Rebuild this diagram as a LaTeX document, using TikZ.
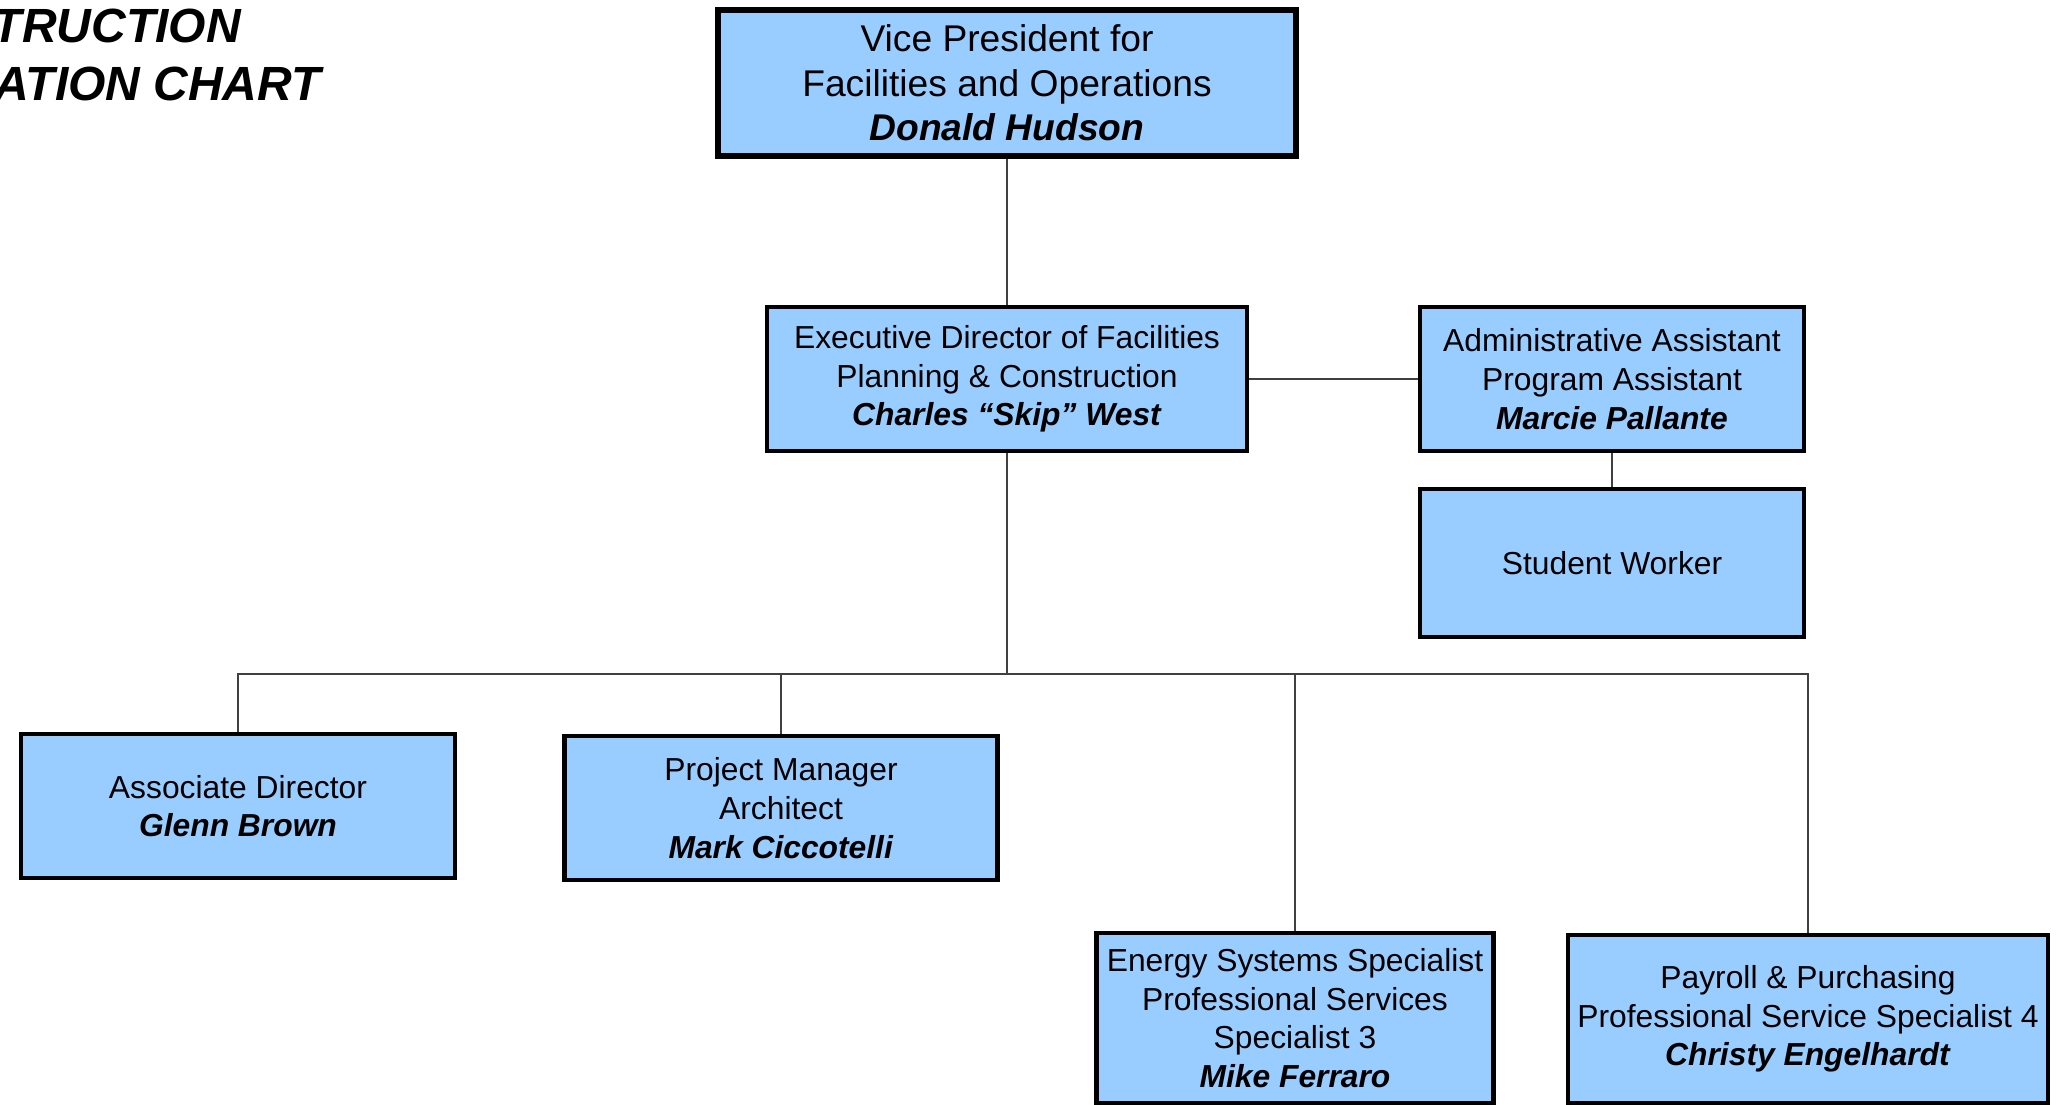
\documentclass[tikz,border=0pt]{standalone}
\usepackage{fontspec}
\setmainfont{Liberation Sans}
\definecolor{boxblue}{HTML}{99CCFF}
\definecolor{linegray}{HTML}{404040}
\tikzset{
  box/.style={draw=black, fill=boxblue, line width=4.5pt, inner sep=0pt, align=center,
    font=\fontsize{31.8}{38.7}\selectfont},
  topbox/.style={box, line width=6pt, font=\fontsize{37.2}{44.6}\selectfont},
  conn/.style={draw=linegray, line width=1.6pt},
  titletext/.style={inner sep=0pt, font=\fontsize{48}{57.6}\selectfont\bfseries\itshape}
}
\newcommand{\pname}[1]{\textbf{\textit{#1}}}
\begin{document}
\begin{tikzpicture}[x=1pt,y=-1pt]
\useasboundingbox (0,0) rectangle (2056,1105);

\node[titletext, anchor=base east] (t1) at (241,43) {TRUCTION};
\node[titletext, anchor=base east] (t2) at (321,101) {ATION CHART};

\node[topbox, minimum width=578pt, minimum height=146pt] (vp) at (1007,83)
  {Vice President for\\Facilities and Operations\\\pname{Donald Hudson}};
\node[box, minimum width=480pt, minimum height=144pt] (ed) at (1007,379)
  {Executive Director of Facilities\\Planning \& Construction\\\pname{Charles “Skip” West}};
\node[box, minimum width=384pt, minimum height=144pt] (adm) at (1612,379)
  {Administrative Assistant\\Program Assistant\\\pname{Marcie Pallante}};
\node[box, minimum width=384pt, minimum height=148pt] (stu) at (1612,563)
  {Student Worker};
\node[box, minimum width=434pt, minimum height=144pt] (asc) at (238,806)
  {Associate Director\\\pname{Glenn Brown}};
\node[box, minimum width=433pt, minimum height=144pt] (pm) at (781,808)
  {Project Manager\\Architect\\\pname{Mark Ciccotelli}};
\node[box, minimum width=397pt, minimum height=170pt] (en) at (1295,1018)
  {Energy Systems Specialist\\Professional Services\\Specialist 3\\\pname{Mike Ferraro}};
\node[box, minimum width=480pt, minimum height=168pt] (pay) at (1808,1019)
  {Payroll \& Purchasing\\Professional Service Specialist 4\\\pname{Christy Engelhardt}};

\coordinate (bar) at (1007,674);
\draw[conn] (vp.south) -- (ed.north);
\draw[conn] (ed.east) -- (adm.west);
\draw[conn] (adm.south) -- (stu.north);
\draw[conn] (ed.south) -- (bar);
\draw[conn] (asc.north) |- (bar) -| (pay.north);
\draw[conn] (pm.north) -- (pm.north |- bar);
\draw[conn] (en.north) -- (en.north |- bar);
\end{tikzpicture}
\end{document}
